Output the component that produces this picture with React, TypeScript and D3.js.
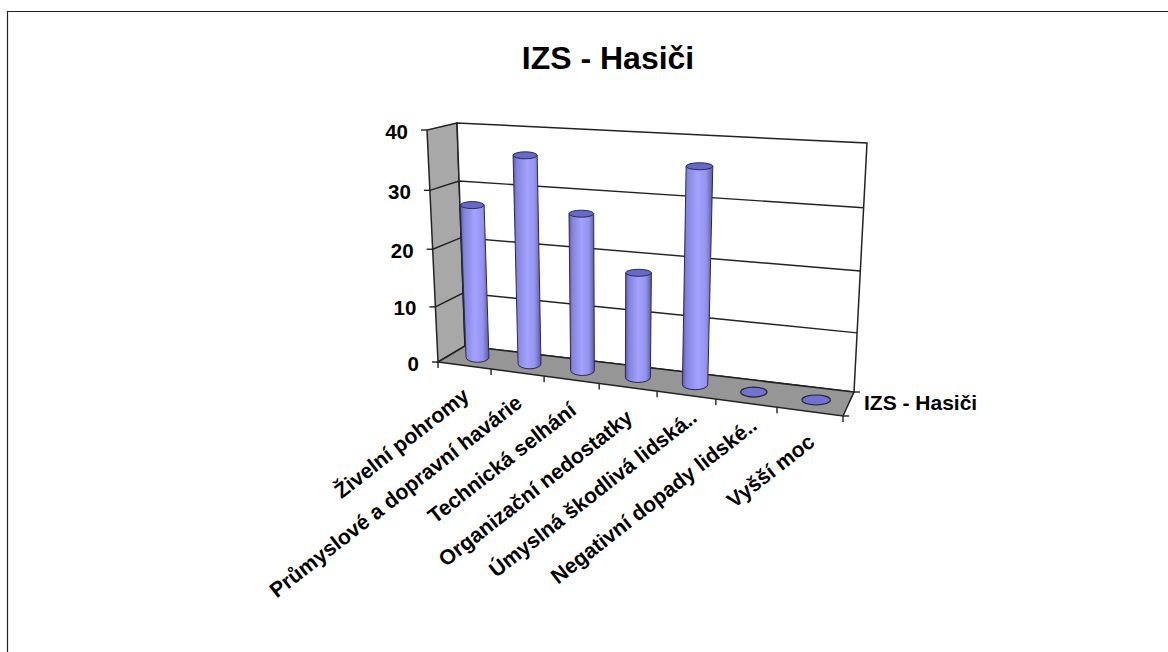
import React from "react";
import * as d3 from "d3";

const title = "IZS - Hasiči";
const seriesName = "IZS - Hasiči";
const categories = [
  "Živelní pohromy",
  "Průmyslové a dopravní havárie",
  "Technická selhání",
  "Organizační nedostatky",
  "Úmyslná škodlivá lidská..",
  "Negativní dopady lidské..",
  "Vyšší moc",
];
const values = [27, 36, 27, 18, 36, 0, 0];
const valueTicks = [0, 10, 20, 30, 40];

// perspective-compressed axis scales
const uScale = d3.scaleLinear().domain([0, 1, 2, 3, 4, 5, 6, 7]).range([0, 0.131, 0.262, 0.398, 0.541, 0.686, 0.837, 1]);
const vScale = d3.scaleLinear().domain(valueTicks).range([0, 0.2375, 0.486, 0.74, 1]);

type P = [number, number];
// corners: f=front, b=back; l/r; 0=floor, 1=top
const fl0: P = [438, 362], fr0: P = [843, 416], bl0: P = [465, 346], br0: P = [854, 392];
const fl1: P = [427, 130], fr1: P = [858, 157], bl1: P = [457, 123], br1: P = [867, 143];

const mix = (a: P, b: P, t: number): P => [a[0] + (b[0] - a[0]) * t, a[1] + (b[1] - a[1]) * t];
const project = (cat: number, val: number, depth: number): P => {
  const u = uScale(cat), v = vScale(val);
  const bot = mix(mix(fl0, fr0, u), mix(bl0, br0, u), depth);
  const top = mix(mix(fl1, fr1, u), mix(bl1, br1, u), depth);
  return mix(bot, top, v);
};
const poly = (pts: P[]) => d3.line()(pts)! + "Z";

const FONT = "'Liberation Sans', Arial, sans-serif";
const LINE = "#222";
const halfW = 0.22;

export default function App() {
  return (
    <svg width={1168} height={652} style={{ position: "fixed", left: 0, top: 0, background: "#fff", display: "block" }} fontFamily={FONT} fontWeight="bold">
      <defs>
        <linearGradient id="cyl" x1="0" x2="1" y1="0" y2="0">
          <stop offset="0" stopColor="#5c5cb0" />
          <stop offset="0.14" stopColor="#8484dc" />
          <stop offset="0.5" stopColor="#a2a2ff" />
          <stop offset="0.78" stopColor="#9494ee" />
          <stop offset="1" stopColor="#5a5aa6" />
        </linearGradient>
      </defs>
      <path d="M7.5 652V11.5H1168" fill="none" stroke="#222" strokeWidth={1.2} />
      <text x={608} y={69} textAnchor="middle" fontSize={32} fill="#000">{title}</text>

      {/* walls */}
      <path d={poly([fl0, bl0, bl1, fl1])} fill="#a8a8a8" stroke={LINE} strokeWidth={1.5} />
      <path d={poly([bl0, br0, br1, bl1])} fill="#fff" stroke={LINE} strokeWidth={1.5} />
      <path d={poly([fl0, fr0, br0, bl0])} fill="#969696" stroke={LINE} strokeWidth={1.5} />

      {/* gridlines + value ticks */}
      {valueTicks.map((t) => {
        const p = project(0, t, 0);
        return (
          <g key={t}>
            {t > 0 && t < 40 && (
              <path d={d3.line()([p, project(0, t, 1), project(7, t, 1)])!} fill="none" stroke={LINE} strokeWidth={1.4} />
            )}
            <line x1={p[0] - 6} x2={p[0]} y1={p[1]} y2={p[1]} stroke={LINE} strokeWidth={1.4} />
            <text x={p[0] - 19} y={p[1] + 8.5} textAnchor="end" fontSize={20.5}>{t}</text>
          </g>
        );
      })}

      {/* category ticks */}
      {d3.range(0, 8).map((i) => {
        const p = project(i, 0, 0);
        return <line key={i} x1={p[0]} x2={p[0]} y1={p[1]} y2={p[1] + 6} stroke={LINE} strokeWidth={1.4} />;
      })}
      <line x1={br0[0]} x2={br0[0] + 6} y1={br0[1]} y2={br0[1]} stroke={LINE} strokeWidth={1.4} />
      <line x1={fr0[0]} x2={fr0[0] + 6} y1={fr0[1]} y2={fr0[1]} stroke={LINE} strokeWidth={1.4} />

      {/* cylinders */}
      {values.map((val, i) => {
        const c = i + 0.5;
        const lb = project(c - halfW, 0, 0.5), rb = project(c + halfW, 0, 0.5);
        const lt = project(c - halfW, val, 0.5), rt = project(c + halfW, val, 0.5);
        const b = project(c, 0, 0.5), t = project(c, val, 0.5);
        const rx = (rb[0] - lb[0]) / 2;
        if (val === 0) {
          return <ellipse key={i} cx={b[0]} cy={b[1]} rx={rx} ry={5} fill="#7272d4" stroke={LINE} strokeWidth={1.1} />;
        }
        const flatL: P = [lt[0], t[1]], flatR: P = [rt[0], t[1]];
        const bl: P = [lb[0], b[1]], br: P = [rb[0], b[1]];
        return (
          <g key={i}>
            <path
              d={`M${flatL}L${bl}A${rx} 5 0 0 0 ${br}L${flatR}Z`}
              fill="url(#cyl)" stroke="#2a2a50" strokeWidth={1}
            />
            <ellipse cx={t[0]} cy={t[1]} rx={(rt[0] - lt[0]) / 2} ry={3.5} fill="#6868c8" stroke="#2a2a50" strokeWidth={1} />
          </g>
        );
      })}

      {/* category labels */}
      {categories.map((c, i) => {
        const p = project(i + 0.5, 0, 0);
        const cut = c.endsWith("..");
        const dx = cut ? 12 : 6, dy = cut ? 25 : 33;
        return (
          <text key={c} transform={`translate(${p[0] + dx},${p[1] + dy}) rotate(-38)`} textAnchor="end" fontSize={21.2}>{c}</text>
        );
      })}
      <text x={864} y={410} fontSize={21}>{seriesName}</text>
    </svg>
  );
}
